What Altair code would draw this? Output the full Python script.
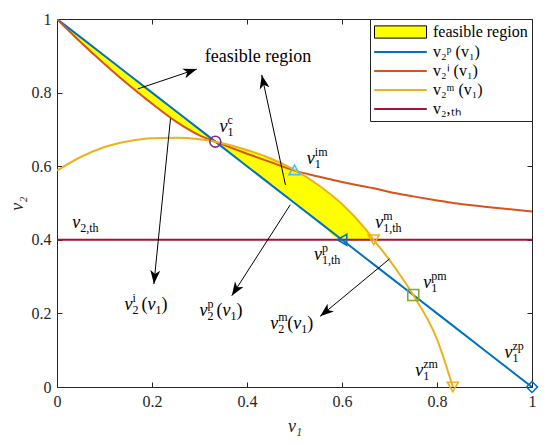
import math
import altair as alt
import pandas as pd

# ---------------- data ----------------
v1 = [0, 0.05, 0.1, 0.15, 0.2, 0.25, 0.3, 0.3333, 0.4, 0.45, 0.5, 0.55, 0.6,
      0.65, 0.6667, 0.7, 0.75, 0.8, 0.8333, 0.9, 1.0]
p_y = [1.0, 0.95, 0.9, 0.85, 0.8, 0.75, 0.7, 0.6667, 0.6, 0.55, 0.5, 0.45, 0.4,
       0.35, 0.3333, 0.3, 0.25, 0.2, 0.1667, 0.1, 0.0]
i_y = [1.0, 0.937, 0.878, 0.822, 0.770, 0.722, 0.684, 0.6667, 0.634, 0.611, 0.588,
       0.572, 0.557, 0.544, 0.540, 0.530, 0.518, 0.507, 0.500, 0.490, 0.477]
m_y = [0.588, 0.625, 0.652, 0.668, 0.676, 0.677, 0.673, 0.6667, 0.644, 0.621, 0.590,
       0.549, 0.497, 0.428, 0.400, 0.345, 0.250, 0.130, 0.0, None, None]
th_value = 0.4

marker_names = ["c", "im", "m_th", "p_th", "pm", "zm", "zp"]
marker_x = [0.3333, 0.5, 0.6667, 0.6, 0.75, 0.8333, 1.0]
marker_y = [0.6667, 0.59, 0.4, 0.4, 0.25, 0.0, 0.0]

arrow_tail_x = [0.170, 0.481, 0.239, 0.491, 0.700]
arrow_tail_y = [0.810, 0.549, 0.730, 0.495, 0.348]
arrow_tip_x = [0.2945, 0.431, 0.204, 0.368, 0.554]
arrow_tip_y = [0.864, 0.848, 0.280, 0.248, 0.192]

label_x = [0.342, 0.526, 0.670, 0.541, 0.771, 0.754, 0.942, 0.032, 0.142, 0.300, 0.449]
label_y = [0.694, 0.606, 0.432, 0.345, 0.269, 0.029, 0.079, 0.432, 0.210, 0.194, 0.157]
label_sub = ["1", "1", "1,th", "1,th", "1", "1", "1", "2,th", "2", "2", "2"]
label_sup = ["c", "im", "m", "p", "pm", "zm", "zp", "", "i", "p", "m"]
label_tail = [False] * 8 + [True] * 3

region_text = "feasible region"
region_text_x = 0.311
region_text_y = 0.884

legend_labels = ["feasible region", "v₂ᵖ (v₁)", "v₂ⁱ (v₁)", "v₂ᵐ (v₁)", "v₂,ₜₕ"]

# ---------------- styles ----------------
BLUE = "#0072BD"
ORANGE = "#D95319"
YELLOW = "#EDB120"
PURPLE = "#7E2F8E"
GREEN = "#77AC30"
CYAN = "#4DBEEE"
DRED = "#A2142F"
FILL = "#FFFF00"
FONT = "Liberation Serif"
W, H = 475, 368

marker_shapes = ["circle", "triangle-up", "triangle-down", "triangle-left",
                 "square", "triangle-down", "diamond"]
marker_colors = [PURPLE, CYAN, YELLOW, BLUE, GREEN, YELLOW, BLUE]

# ---------------- frames ----------------
curves = pd.DataFrame({"x": v1, "p": p_y, "i": i_y, "m": m_y})

reg1 = curves[curves["x"] <= 0.3334][["x", "p", "i"]].rename(columns={"p": "hi", "i": "lo"})
reg2 = curves[(curves["x"] >= 0.3333) & (curves["x"] <= 0.6667)].copy()
reg2["hi"] = reg2["m"]
reg2["lo"] = reg2["p"].clip(lower=th_value)
reg2 = reg2[["x", "hi", "lo"]]

xs = alt.Scale(domain=[0, 1], nice=False, zero=False)
ys = alt.Scale(domain=[0, 1], nice=False, zero=False)
ticks = [0, 0.2, 0.4, 0.6, 0.8, 1]

ax_bottom = alt.Axis(orient="bottom", values=ticks, format="~g", offset=-5, tickSize=5,
                     domain=False, grid=False, labelPadding=6, labelFlush=False,
                     title="v₁", titleFontStyle="italic", titlePadding=8)
ax_left = alt.Axis(orient="left", values=ticks, format="~g", offset=-5, tickSize=5,
                   domain=False, grid=False, labelPadding=6, labelFlush=False,
                   title="v₂", titleFontStyle="italic", titlePadding=5)
ax_top = alt.Axis(orient="top", values=ticks, offset=-5, tickSize=5, domain=False,
                  grid=False, labels=False, title=None)
ax_right = alt.Axis(orient="right", values=ticks, offset=-5, tickSize=5, domain=False,
                    grid=False, labels=False, title=None)


def X(field, axis=None):
    return alt.X(f"{field}:Q", scale=xs, axis=axis)


def Y(field, axis=None):
    return alt.Y(f"{field}:Q", scale=ys, axis=axis)


fill1 = alt.Chart(reg1).mark_area(color=FILL, opacity=1, interpolate="monotone").encode(
    x=X("x"), y=Y("hi"), y2="lo:Q")
fill2 = alt.Chart(reg2).mark_area(color=FILL, opacity=1, interpolate="monotone").encode(
    x=X("x"), y=Y("hi"), y2="lo:Q")

th_df = pd.DataFrame({"th": [th_value]})
th_line = alt.Chart(th_df).mark_rule(color=DRED, strokeWidth=2).encode(y=Y("th"))

p_line = alt.Chart(curves).mark_line(color=BLUE, strokeWidth=2, clip=True).encode(
    x=X("x", ax_bottom), y=Y("p", ax_left))
i_line = alt.Chart(curves).mark_line(color=ORANGE, strokeWidth=2, interpolate="monotone",
                                     clip=True).encode(
    x=X("x", ax_top), y=Y("i", ax_right))
m_line = alt.Chart(curves.dropna()).mark_line(color=YELLOW, strokeWidth=2,
                                              interpolate="monotone", clip=True).encode(
    x=X("x"), y=Y("m"))

# arrows
arr = pd.DataFrame({"tx": arrow_tail_x, "ty": arrow_tail_y,
                    "hx": arrow_tip_x, "hy": arrow_tip_y})
arr["angle"] = [
    (math.degrees(math.atan2((hx - tx) * W, (hy - ty) * H)) + 360) % 360
    for tx, ty, hx, hy in zip(arrow_tail_x, arrow_tail_y, arrow_tip_x, arrow_tip_y)
]
shafts = alt.Chart(arr).mark_rule(color="black", strokeWidth=1).encode(
    x=X("tx"), y=Y("ty"), x2="hx:Q", y2="hy:Q")
HEAD = "M0,0L0.62,1.7L0,1.25L-0.62,1.7Z"
heads = alt.Chart(arr).mark_point(shape=HEAD, filled=True, color="black", opacity=1,
                                  size=260, strokeWidth=0).encode(
    x=X("hx"), y=Y("hy"), angle=alt.Angle("angle:Q", scale=None))

# markers: one layer per marker (fixed shape / colour values)
mk = pd.DataFrame({"name": marker_names, "x": marker_x, "y": marker_y})
marker_layers = []
for name, shp, col in zip(marker_names, marker_shapes, marker_colors):
    marker_layers.append(
        alt.Chart(mk[mk["name"] == name]).mark_point(
            shape=shp, filled=False, color=col, opacity=1, strokeWidth=1.6, size=120
        ).encode(x=X("x"), y=Y("y"))
    )

# annotation labels
lab = pd.DataFrame({"x": label_x, "y": label_y, "sub": label_sub, "sup": label_sup,
                    "tail": label_tail})
lab["v"] = "v"
tail = lab[lab["tail"]].copy()
tail["open"] = "("
tail["one"] = "1"
tail["close"] = ")"


def txt(df, field, dx, dy, size, style="normal"):
    return alt.Chart(df).mark_text(align="left", baseline="alphabetic", font=FONT,
                                   fontSize=size, fontStyle=style, dx=dx, dy=dy,
                                   color="black").encode(
        x=X("x"), y=Y("y"), text=f"{field}:N")


texts = [
    txt(lab, "v", 0, 0, 18, "italic"),
    txt(lab[lab["sup"] != ""], "sup", 8, -8, 12),
    txt(lab, "sub", 8, 4, 12),
    txt(tail, "open", 17, 0, 18),
    txt(tail, "v", 23, 0, 18, "italic"),
    txt(tail, "one", 31, 4, 12),
    txt(tail, "close", 37, 0, 18),
]
region_df = pd.DataFrame({"x": [region_text_x], "y": [region_text_y], "t": [region_text]})
region_lbl = alt.Chart(region_df).mark_text(align="left", baseline="alphabetic", font=FONT,
                                            fontSize=18, color="black").encode(
    x=X("x"), y=Y("y"), text="t:N")

# legend (driven by an empty layer with explicit scale domains)
RECT = "M-1,-0.72H5.12V0.72H-1Z"
LINE = "M-1,-0.06H5.12V0.06H-1Z"
leg_df = pd.DataFrame({"series": legend_labels})
legend_def = alt.Legend(orient="top-right", offset=0, title=None, padding=4,
                        strokeColor="#262626", fillColor="white", labelFont=FONT,
                        labelFontSize=16, symbolSize=289, symbolStrokeWidth=1,
                        labelOffset=41, rowPadding=2, labelLimit=200)
legend_layer = alt.Chart(leg_df).transform_filter("false").mark_point(
    filled=True, opacity=1, strokeWidth=1).encode(
    fill=alt.Fill("series:N", scale=alt.Scale(domain=legend_labels,
                                              range=[FILL, BLUE, ORANGE, YELLOW, DRED]),
                  legend=legend_def),
    stroke=alt.Stroke("series:N", scale=alt.Scale(domain=legend_labels,
                                                  range=["black", BLUE, ORANGE, YELLOW, DRED]),
                      legend=legend_def),
    shape=alt.Shape("series:N", scale=alt.Scale(domain=legend_labels,
                                                range=[RECT, LINE, LINE, LINE, LINE]),
                    legend=legend_def),
)

chart = alt.layer(
    fill1, fill2, th_line, p_line, i_line, m_line, shafts, heads, *marker_layers,
    *texts, region_lbl, legend_layer
).resolve_axis(x="independent", y="independent").properties(
    width=W, height=H,
    autosize=alt.AutoSizeParams(type="none"),
    padding={"left": 49, "top": 11, "right": 10, "bottom": 50},
    background="white",
).configure_view(stroke="#262626", strokeWidth=1).configure_axis(
    labelFont=FONT, labelFontSize=16, labelColor="#262626", tickColor="#262626",
    titleFont=FONT, titleFontSize=18, titleColor="#262626", titleFontWeight="normal",
    tickWidth=1,
)

chart.save("out.html", embed_options={"renderer": "svg", "actions": False})
